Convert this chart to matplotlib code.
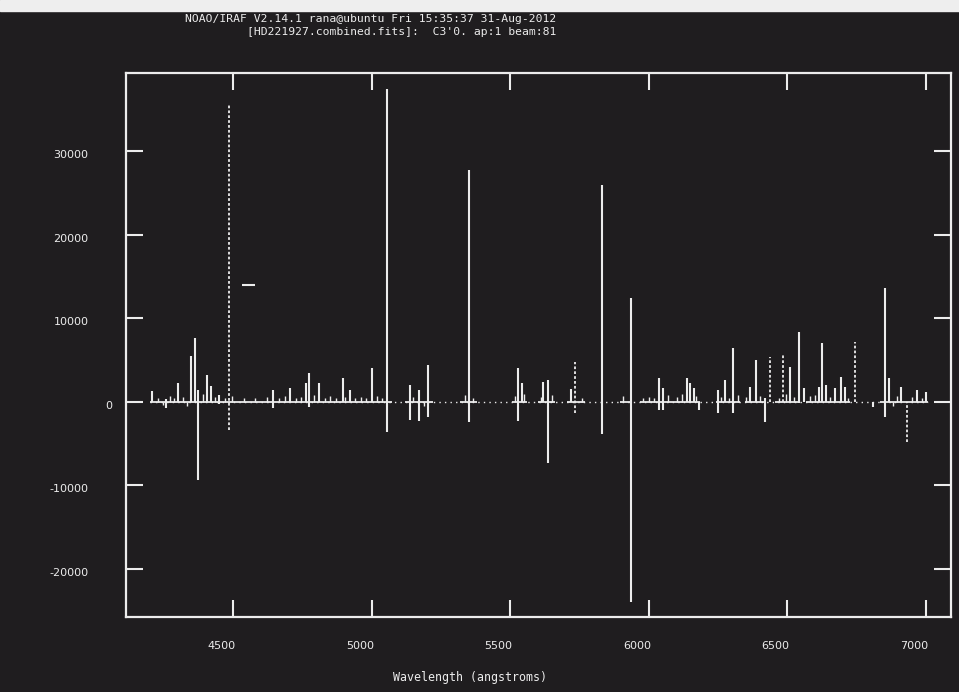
import matplotlib
matplotlib.use("Agg")
import matplotlib.pyplot as plt
import matplotlib.transforms as mtrans
from matplotlib.patches import Rectangle

# spectrum spikes: wavelength, top, bottom
line_wl = [4206, 4256, 4300, 4347, 4363, 4374, 4407, 4420, 4450, 4645, 4705,
           4763, 4775, 4810, 4895, 4922, 5000, 5054, 5138, 5172, 5204, 5349,
           5529, 5541, 5617, 5634, 5720, 5832, 5934, 6035, 6050, 6137, 6149,
           6161, 6180, 6251, 6275, 6303, 6366, 6387, 6420, 6508, 6543, 6559,
           6613, 6626, 6640, 6673, 6692, 6706, 6810, 6853, 6865, 6908, 6967,
           7001]
line_top = [1300, 300, 2200, 5480, 7600, 1400, 3200, 1900, 800, 1400, 1600,
            2200, 3400, 2200, 2800, 1400, 4000, 37460, 2000, 1400, 4400, 27780,
            4080, 2200, 2400, 2600, 1500, 25980, 12470, 2800, 1600, 2800, 2200,
            1600, 0, 1400, 2600, 6400, 1800, 5000, 400, 4200, 8300, 1600,
            1800, 7000, 2000, 1600, 3000, 1800, 0, 13600, 2800, 1800, 1400,
            1200]
line_bot = [0, -750, 0, 0, 0, -9400, 0, 0, -300, -800, 0,
            0, -600, 0, 0, 0, 0, -3600, -2200, -2300, -1800, -2400,
            -2300, 0, 0, -7400, 0, -3900, -23980, -1000, -1000, 0, 0,
            0, -1000, -1400, 0, -1400, 0, 0, -2400, 0, -200, 0,
            0, 0, 0, 0, 0, 0, -600, -1800, 0, 0, 0,
            0]

# fainter, broken spikes
dot_wl = [4486, 5734, 6438, 6484, 6742, 6931]
dot_top = [35580, 4800, 5400, 5600, 7200, 0]
dot_bot = [-3400, -1400, 0, 0, 0, -4800]

# low level noise along the continuum
noise_wl = [4230, 4245, 4270, 4285, 4318, 4332, 4390, 4435, 4470, 4495, 4540,
            4580, 4620, 4665, 4685, 4725, 4745, 4790, 4830, 4850, 4870, 4905,
            4940, 4960, 4980, 5020, 5035, 5150, 5190, 5335, 5365, 5515, 5550,
            5610, 5650, 5760, 5905, 5980, 6000, 6020, 6070, 6100, 6120, 6170,
            6260, 6290, 6320, 6350, 6400, 6470, 6495, 6525, 6580, 6600, 6655,
            6720, 6880, 6895, 6950, 6985]
noise_val = [500, -400, 700, 400, 600, -500, 900, 600, 500, 700, 400,
             500, 600, 400, 700, 500, 600, 800, 500, 700, 400, 600,
             500, 600, 400, 700, 500, 600, -500, 800, 500, 700, 900,
             600, 800, 500, 700, 400, 600, 500, 800, 600, 900, 700,
             600, 500, 800, 600, 700, 500, 900, 600, 700, 800, 600,
             500, -500, 700, 600, 500]

# continuum pieces drawn solid
base_start = [4200, 5120, 5319, 5506, 5600, 5705, 5896, 5969, 6243, 6348,
              6456, 6568, 6835]
base_end = [5073, 5221, 5380, 5561, 5662, 5770, 5940, 6185, 6330, 6420,
            6546, 6727, 7008]

# stray horizontal segment near 4550
stray_y = 14000
stray_x0, stray_x1 = 4530, 4578

xticks = [4500, 5000, 5500, 6000, 6500, 7000]
yticks = [-20000, -10000, 0, 10000, 20000, 30000]

bg = '#1f1d1f'
fg = '#ececec'

fig = plt.figure(figsize=(9.59, 6.92), dpi=100, facecolor=bg)
ax = fig.add_axes([126/959, 1-617/692, (951-126)/959, (617-73)/692])
ax.set_facecolor(bg)

ax.hlines(0, 4200, 7008, color=fg, lw=1.0, linestyles=(0, (1, 3)))
ax.hlines([0]*len(base_start), base_start, base_end, color=fg, lw=1.3)
ax.vlines(noise_wl, 0, noise_val, color=fg, lw=1.0)
ax.vlines(line_wl, line_bot, line_top, color=fg, lw=1.5)
ax.vlines(dot_wl, dot_bot, dot_top, color=fg, lw=1.3, linestyles=(0, (1.5, 1.2)))
ax.hlines(stray_y, stray_x0, stray_x1, color=fg, lw=1.5)

ax.set_xlim(4113, 7090)
ax.set_ylim(-25815, 39412)

for s in ax.spines.values():
    s.set_color(fg)
    s.set_linewidth(1.6)

ax.set_xticks(xticks, [str(v) for v in xticks])
ax.set_yticks(yticks, [str(v) for v in yticks])
ax.tick_params(direction='in', length=12, width=1.5, color=fg,
               top=True, right=True, labelcolor=fg, labelsize=8)
ax.tick_params(axis='x', pad=17)
ax.tick_params(axis='y', pad=27)

# IRAF puts the numbers a bit off the ticks
for lab in ax.get_xticklabels():
    lab.set_transform(lab.get_transform() +
                      mtrans.ScaledTranslation(-0.12, 0, fig.dpi_scale_trans))
for lab in ax.get_yticklabels():
    dx = 0.24 if lab.get_text() == '0' else 0.0
    lab.set_transform(lab.get_transform() +
                      mtrans.ScaledTranslation(dx, -0.03, fig.dpi_scale_trans))

fig.text(556/959, 1-19/692, 'NOAO/IRAF V2.14.1 rana@ubuntu Fri 15:35:37 31-Aug-2012',
         color=fg, fontsize=8.2, family='DejaVu Sans Mono', ha='right', va='center')
fig.text(556/959, 1-32/692, "[HD221927.combined.fits]:  C3'0. ap:1 beam:81",
         color=fg, fontsize=8.2, family='DejaVu Sans Mono', ha='right', va='center')
fig.text(470/959, 1-677/692, 'Wavelength (angstroms)', color=fg, fontsize=8.4,
         family='DejaVu Sans Mono', ha='center', va='center')

# light strip along the top edge of the photo
fig.patches.append(Rectangle((0, 1-11/692), 1, 11/692, transform=fig.transFigure,
                             color='#eeeeee', zorder=-1))

fig.savefig('out.png', dpi=100, facecolor=bg)
